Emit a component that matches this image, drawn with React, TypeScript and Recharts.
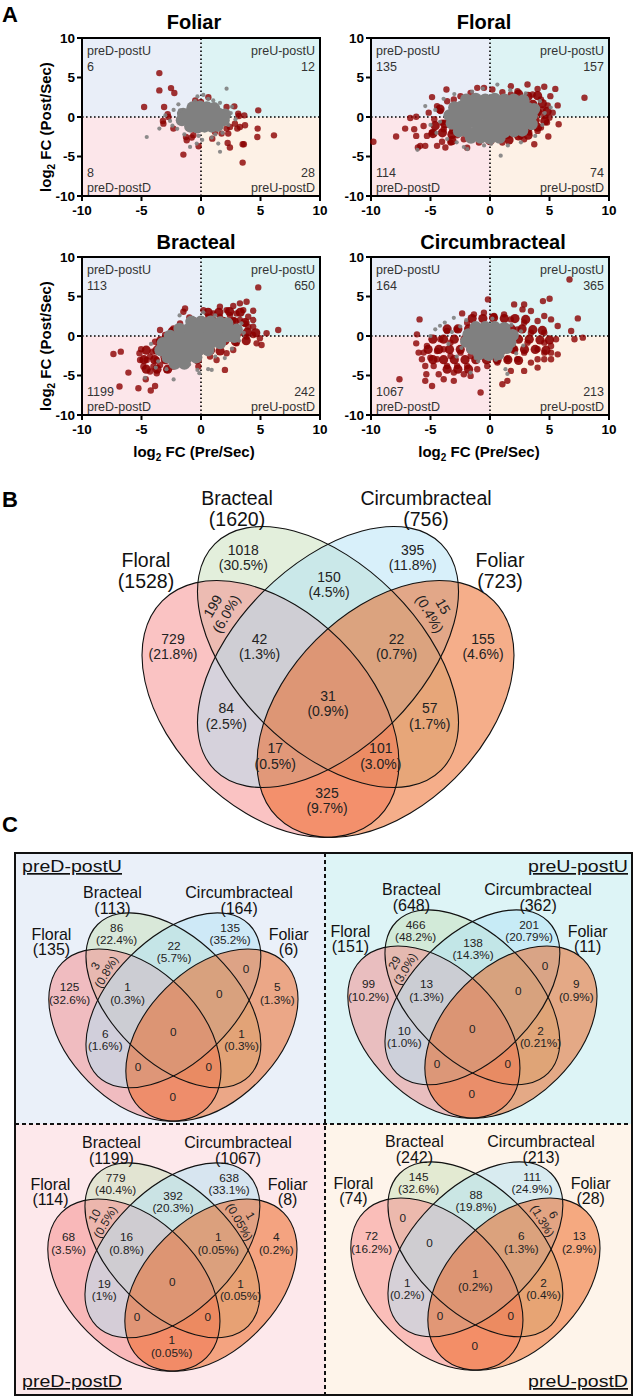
import React from "react";
import { ScatterChart, Scatter, XAxis, YAxis, ReferenceArea, ReferenceLine } from "recharts";

type Pt = [number, number];

const SANS = "'Liberation Sans', Arial, Helvetica, sans-serif";
const RED = "#8b0000";
const GRAY = "#808080";

// ---------- panel A ----------
const quadrants = ["preD-postU", "preU-postU", "preD-postD", "preU-postD"];
const foliarCounts = [6, 12, 8, 28];
const floralCounts = [135, 157, 114, 74];
const bractealCounts = [113, 650, 1199, 242];
const circumCounts = [164, 365, 1067, 213];

const foliarRed: Pt[] = [
  [-3.5, 5.56], [-3.5, 3.37], [-2.52, 3.66], [-2.24, 3.03], [-4.78, 1.26], [-3.1, 1.26], [-2.8, 0.34], [-2.74, 0],
  [-3.2, -0.5], [-3.16, -0.84], [-2.32, -1.47], [-1.26, -2.53], [-1.2, -2.95], [-0.78, -2.6], [-0.64, -2.3], [-0.2, -3.7],
  [-1.48, -4.76], [-0.48, 2.1], [0, 1.9], [0.62, 2.5], [0.2, 1.35], [2.15, 1.26], [2.8, 1.35], [3.13, 0.42], [3.19, 0.13],
  [3.64, 0.21], [4.81, 0.84], [2.15, -1.47], [2.43, -1.26], [3.05, -1.47], [3.27, -1.26], [3.7, -1.05], [2.85, -0.84],
  [2.29, -2.1], [1.73, -2.1], [1.17, -1.9], [0.95, -2.74], [4.76, -1.47], [4.73, -2.53], [6.13, -2.32], [2.24, -3.28],
  [2.43, -3.87], [3.5, -3.45], [3.6, -3.45], [3.5, -5.77], [0.6, 0], [1.3, 0.1], [0.75, -0.84], [-0.8, -0.4],
];
const foliarRedDense: Pt[] = [];
const foliarGrayDense: Pt[] = [
  [-0.7, 1.2], [-0.1, 1.3], [0.5, 1.2], [1.1, 1.1],
  [-1.5, 0.4], [-0.9, 0.5], [-0.3, 0.4], [0.3, 0.5], [0.9, 0.4], [1.5, 0.4], [2.0, 0.3],
  [-1.6, -0.4], [-1.0, -0.4], [-0.4, -0.5], [0.2, -0.4], [0.8, -0.4], [1.4, -0.5], [1.9, -0.4],
  [-0.9, -1.2], [-0.3, -1.3], [0.3, -1.2], [0.9, -1.2], [1.4, -1.1],
];
const foliarGray: Pt[] = [
  [-2.3, 0.9], [-2.6, -0.5], [-1.9, 1.6], [-0.5, 2.0], [0.6, 2.3], [1.6, 1.8], [2.15, 3.58], [2.5, 0.5], [2.3, -1.0],
  [1.8, -2.0], [1.45, -3.37], [1.6, -4.4], [-0.36, -3.37], [-0.92, -3.79], [-1.4, -2.2], [-2.0, -1.5], [-3.5, -1.47],
  [-4.56, -2.53], [-1.76, 0.84], [1.03, 2.1], [0.2, 2.8], [-0.2, -2.4], [0.9, -2.6], [2.9, -0.3], [-3.0, 0.2],
  [-0.3, 2.6], [0.1, -2.9], [2.6, 1.3], [-2.4, -1.1], [1.2, -2.2],
];

const floralRed: Pt[] = [
  [-9.8, -3.14], [-7.89, -2.47], [-6.7, -0.13], [-6.2, 0.04], [-7.13, -1.47], [-6.37, -1.55], [-6.2, -2.39], [-5.86, -3.65],
  [-5.44, -3.65], [-6.06, -3.86], [-5.3, -2.39], [-5.58, -1.13], [-4.87, 2.52], [-3.66, 3.48], [-4.45, -3.65], [-4.03, -3.14],
  [-3.75, -3.86], [-3.32, -3.23], [-2.76, -2.31], [-2.76, -1.13], [-3.18, -1.76], [-4.68, -0.29], [-4.17, 0.75], [-3.6, 2.0],
  [-4.45, 1.38], [-5.15, 0.55], [-1.92, -3.9], [-2.2, -2.81], [-1.35, -2.6], [-0.5, 3.69], [-1.63, 3.06], [-2.48, 2.64],
  [-3.04, 2.22], [0.2, 3.48], [1.04, 3.14], [1.75, 2.85], [3.15, 4.11], [4.0, 3.56], [4.56, 3.82], [5.49, 3.56], [5.07, 2.64],
  [5.69, 1.47], [7.94, 2.43], [4.85, 1.47], [4.28, 2.22], [3.58, 2.85], [2.87, 2.22], [2.31, 3.27], [4.0, 0.55], [4.56, 0.13],
  [4.99, -0.08], [5.77, -0.92], [4.79, -0.71], [4.28, -1.34], [4.9, -2.47], [3.72, -3.44], [2.87, -2.81], [2.59, -2.39],
  [2.17, -1.76], [1.75, -2.18], [1.04, -3.23], [0.28, -2.73], [3.3, -1.13], [3.58, -0.29], [3.15, 0.96], [3.72, 1.38],
  [2.73, 0.34], [2.31, -1.34], [1.46, -2.39], [-3.89, -1.55], [-4.87, -1.97], [-4.03, -0.71], [-3.32, -0.29], [-2.48, -1.76],
  [-1.63, -1.97], [-0.93, -3.23], [-0.5, -2.39], [3.3, -1.97], [4.0, -1.76], [4.42, 0.96], [5.27, 0.55], [1.75, 3.9], [-1.07, 3.69],
];
const floralRedDense: Pt[] = [
  [-4.2, 1.0], [-4.6, -1.1], [-3.8, -0.9], [-4.8, -2.1], [-4.0, -2.0], [-3.2, -2.2], [-3.2, -3.0],
  [3.2, 2.6], [4.0, 2.7], [3.6, 1.6], [4.4, 1.7], [4.0, 0.6], [4.8, 0.7], [3.8, -0.4], [4.6, -0.5], [3.2, -1.4], [4.0, -1.3],
  [2.4, -2.4], [3.2, -2.3], [0.0, -3.0], [1.6, -2.9], [2.4, 2.9],
];
const floralGrayDense: Pt[] = [
  [-2.0, 2.2], [-1.2, 2.3], [-0.4, 2.2], [0.4, 2.3], [1.2, 2.2], [2.0, 2.2], [2.8, 2.1],
  [-3.0, 1.2], [-2.4, 1.3], [-1.6, 1.2], [-0.8, 1.3], [0.0, 1.2], [0.8, 1.3], [1.6, 1.2], [2.4, 1.2], [3.2, 1.1], [3.7, 1.0],
  [-3.4, 0.2], [-2.8, 0.3], [-2.0, 0.2], [-1.2, 0.2], [-0.4, 0.3], [0.4, 0.2], [1.2, 0.2], [2.0, 0.3], [2.8, 0.2], [3.5, 0.2],
  [-3.2, -0.8], [-2.6, -0.8], [-1.8, -0.7], [-1.0, -0.8], [-0.2, -0.8], [0.6, -0.9], [1.4, -0.8], [2.2, -0.8], [3.0, -0.7], [3.5, -0.9],
  [-2.6, -1.8], [-2.0, -1.8], [-1.2, -1.9], [-0.4, -1.8], [0.4, -1.8], [1.2, -1.9], [2.0, -1.8], [2.7, -1.7],
  [-1.6, -2.6], [-0.8, -2.6], [0.0, -2.7], [0.8, -2.6],
];
const floralGray: Pt[] = [
  [0.62, 4.1], [0.9, -4.9], [-1.9, -4.07], [-6.1, -4.15], [-5.44, 1.38], [-4.6, 0.9], [-4.2, -0.6], [-4.5, -2.0], [-3.9, 2.3],
  [-3.0, 2.9], [-1.5, 3.2], [1.7, 3.4], [3.0, 3.0], [4.2, 2.0], [4.6, 0.5], [4.4, -1.0], [3.8, -2.4], [2.6, -3.2], [1.5, -3.6],
  [-0.5, -3.6], [-2.8, -3.2], [-3.6, -2.8], [-5.0, -1.0], [-2.2, -3.8], [5.1, 1.2], [-0.6, 3.6], [0.1, -3.4],
];

const bractealRed: Pt[] = [
  [-7.36, -2.27], [-6.74, -1.98], [-6.85, -6.4], [-6.1, -4.63], [-5.26, -6.61], [-4.22, -6.9], [-3.86, -6.32], [-4.64, -5.47],
  [-5.03, -1.68], [-5.17, -2.19], [-5.12, -3.03], [-4.56, -3.03], [-4.84, -3.87], [-4.28, -4.5], [-3.72, -4.72], [-3.44, -3.66],
  [-4.06, -1.98], [-3.58, -1.35], [-3.86, -0.72], [-3.44, 0.76], [-3.02, 0.13], [-2.88, -2.19], [-2.6, -3.03], [-2.32, -3.87],
  [-2.88, -4.29], [-1.76, -3.45], [-2.32, -1.77], [-3.16, -1.35], [-1.34, 3.49], [-1.48, 3.07], [-0.98, 2.36], [-1.76, 1.6],
  [-2.32, 0.97], [-0.64, 2.02], [0.2, 3.28], [0.62, 2.44], [1.59, 3.7], [2.15, 3.28], [2.71, 3.79], [3.27, 4.13], [3.83, 4.34],
  [4.39, 3.2], [3.97, 2.44], [3.69, 1.6], [4.39, 2.02], [4.81, 6.15], [6.49, 0.76], [5.51, 0.34], [4.95, -0.29], [5.09, -1.14],
  [4.67, -0.93], [4.39, 0.13], [3.83, -0.08], [3.27, 0.34], [2.99, -0.93], [2.71, -1.77], [2.15, -2.19], [2.01, -4.29],
  [1.31, -3.03], [0.76, -2.61], [0.48, -1.98], [2.71, 2.02], [2.43, 1.18], [1.87, 2.02], [1.31, 1.18], [1.03, 2.86],
  [-0.08, 1.18], [-0.64, -2.19], [-1.2, -3.03], [-0.22, -3.87], [1.45, -0.08], [3.27, 2.02], [3.97, 1.18], [4.39, 1.18],
  [2.99, 2.86], [3.55, 3.28], [2.43, 2.65], [1.59, 2.44], [-4.28, -2.61], [-3.72, -3.03], [-3.16, -2.61], [-4.0, -3.87],
  [-2.6, -0.93], [-2.04, -0.5], [-1.76, -1.77], [-1.2, -1.35], [-1.2, 0.76],
];
const bractealRedDense: Pt[] = [
  [0.6, 3.0], [1.5, 3.0], [2.4, 3.1], [3.3, 3.0],
  [-0.8, 1.8], [0.1, 1.8], [1.0, 1.9], [1.9, 1.8], [2.8, 1.8], [3.7, 1.7],
  [-2.4, 0.6], [-1.5, 0.6], [-0.6, 0.7], [0.3, 0.6], [1.2, 0.6], [2.1, 0.6], [3.0, 0.6], [3.9, 0.5], [4.6, 0.4],
  [-3.4, -0.6], [-2.5, -0.6], [-1.6, -0.6], [-0.7, -0.6], [0.2, -0.6], [1.1, -0.6], [2.0, -0.6], [2.9, -0.7], [3.8, -0.6],
  [-4.6, -1.8], [-3.7, -1.8], [-2.8, -1.8], [-1.9, -1.8], [-1.0, -1.8], [-0.1, -1.8], [0.8, -1.8], [1.6, -1.9],
  [-4.8, -3.0], [-3.9, -3.0], [-3.0, -3.0], [-2.1, -3.0], [-1.2, -3.0], [-0.3, -3.0],
  [-4.6, -4.2], [-3.7, -4.2], [-2.8, -4.2],
];
const bractealGrayDense: Pt[] = [
  [-0.8, 1.8], [0.0, 1.8], [0.8, 1.8], [1.6, 1.7], [2.2, 1.6],
  [-1.8, 0.9], [-1.0, 0.9], [-0.2, 0.9], [0.6, 0.9], [1.4, 0.9], [2.2, 0.9], [3.0, 0.8],
  [-2.6, 0.0], [-1.8, 0.0], [-1.0, 0.0], [-0.2, 0.0], [0.6, 0.0], [1.4, 0.0], [2.2, 0.0], [2.8, -0.1],
  [-3.2, -0.9], [-2.4, -0.9], [-1.6, -0.9], [-0.8, -0.9], [0.0, -0.9], [0.8, -0.9], [1.6, -0.9],
  [-3.4, -1.8], [-2.6, -1.8], [-1.8, -1.8], [-1.0, -1.8], [-0.2, -1.8], [0.6, -1.8],
  [-2.8, -2.7], [-2.0, -2.7], [-1.2, -2.7], [-0.4, -2.7], [-2.2, -3.5], [-1.4, -3.5],
];
const bractealGray: Pt[] = [
  [-0.14, -4.7], [-0.3, -4.3], [-2.3, -5.5], [-4.7, -5.3], [0.6, -4.2], [0.9, -4.3], [-3.6, -3.2], [-4.2, -1.0], [3.4, 1.6],
  [3.2, -0.6], [2.6, -1.6], [1.2, -2.6], [-1.8, 2.6], [0.2, 3.0], [-3.8, -4.0], [-2.9, -4.2], [2.0, -2.8], [3.6, 0.4],
  [-1.0, -3.6], [1.2, 2.6],
];

const circumRed: Pt[] = [
  [-5.92, 2.1], [-7.61, -5.47], [-6.14, 0.21], [-6.2, -0.93], [-6.0, -2.1], [-5.72, -2.95], [-5.35, -4.84], [-5.44, -5.68],
  [-4.87, -6.32], [-5.44, -3.79], [-5.01, -2.74], [-4.73, -3.79], [-4.31, -4.84], [-3.89, -5.47], [-3.04, -5.68], [-2.2, -4.84],
  [-1.63, -5.05], [-0.79, -7.16], [1.04, -6.11], [1.46, -5.68], [2.87, -4.42], [1.75, -4.42], [4.0, -4.0], [5.69, -2.32],
  [5.13, -2.11], [4.56, -2.95], [3.44, -3.37], [2.31, -2.95], [2.87, -2.11], [4.0, -1.68], [5.13, -1.26], [5.55, -0.42],
  [5.69, 1.26], [5.13, 2.1], [4.56, 2.53], [4.0, 1.89], [3.44, 3.16], [2.87, 4.0], [2.03, 4.0], [2.73, 3.37], [4.45, 4.42],
  [5.01, 4.72], [6.68, 7.16], [7.38, 2.23], [6.82, 0.63], [7.1, -0.42], [7.8, -0.21], [-0.17, 4.63], [-0.51, 2.95], [0.34, 2.53],
  [1.18, 2.74], [1.75, 2.1], [-1.35, 2.74], [-2.34, 2.86], [-1.92, 1.68], [-2.76, 0.84], [-3.61, 0.63], [-4.17, -0.42],
  [-3.89, -1.68], [-4.45, -1.89], [-3.32, -2.53], [-2.76, -3.79], [-1.92, -3.79], [-1.07, -4.21], [-0.23, -3.79], [0.62, -3.37],
  [1.46, -2.95], [2.03, -1.68], [3.15, -0.84], [3.44, 0.42], [4.56, 0.42], [4.56, -0.84], [2.31, 0.84], [2.87, 1.68],
  [1.18, 1.26], [-2.48, -2.11], [-1.63, -2.53], [-0.79, -2.53], [-3.32, -0.84], [-5.3, -1.26], [-5.58, -2.1], [-4.45, -2.95],
  [-3.61, -3.79], [-3.04, -4.63], [0.62, -1.68], [0.06, -2.53], [4.0, -2.95], [4.56, -2.11], [5.13, -2.95],
];
const circumRedDense: Pt[] = [
  [-1.5, 2.2], [-0.6, 2.2], [0.3, 2.3], [1.2, 2.2], [2.1, 2.2], [3.0, 2.1],
  [-3.6, 0.9], [-2.7, 0.9], [-1.8, 0.9], [-0.9, 0.9], [0.0, 0.9], [0.9, 0.9], [1.8, 0.9], [2.7, 0.9], [3.6, 0.8], [4.4, 0.7],
  [-4.8, -0.4], [-3.9, -0.4], [-3.0, -0.4], [-2.1, -0.4], [-1.2, -0.4], [-0.3, -0.4], [0.6, -0.4], [1.5, -0.4], [2.4, -0.4],
  [3.3, -0.4], [4.2, -0.5], [5.0, -0.5],
  [-5.2, -1.7], [-4.3, -1.7], [-3.4, -1.7], [-2.5, -1.7], [-1.6, -1.7], [-0.7, -1.7], [0.2, -1.7], [1.1, -1.7], [2.0, -1.7],
  [2.9, -1.7], [3.8, -1.7], [4.7, -1.8],
  [-4.8, -3.0], [-3.9, -3.0], [-3.0, -3.0], [-2.1, -3.0], [-1.2, -3.0], [-0.3, -3.0], [0.6, -3.0], [1.5, -3.0], [2.4, -3.1],
  [-3.6, -4.2], [-2.7, -4.2], [-1.8, -4.2],
];
const circumGrayDense: Pt[] = [
  [-1.2, 1.1], [-0.4, 1.1], [0.4, 1.1], [1.2, 1.0],
  [-1.8, 0.2], [-1.0, 0.2], [-0.2, 0.2], [0.6, 0.2], [1.4, 0.2], [1.9, 0.1],
  [-2.0, -0.7], [-1.2, -0.7], [-0.4, -0.7], [0.4, -0.7], [1.2, -0.7], [1.7, -0.8],
  [-1.5, -1.6], [-0.7, -1.6], [0.1, -1.6], [0.9, -1.6], [1.4, -1.5],
  [-0.9, -2.3], [-0.1, -2.4], [0.7, -2.3],
];
const circumGray: Pt[] = [
  [-3.04, 2.3], [-3.8, 1.7], [-4.6, 0.84], [-5.0, 0], [-2.5, 1.2], [-3.2, 0.5], [-1.63, -4.63], [1.3, -4.2], [1.46, -4.8],
  [-2.4, -1.5], [-3.5, -1.0], [2.8, -1.2], [2.6, 0.6], [-1.0, -3.2], [0.5, -3.0], [-4.2, 1.3], [-2.0, 2.0], [-1.2, -2.8],
  [2.2, -2.2], [-2.8, -2.6], [0.2, 2.2], [1.8, 1.4],
];

// ---------- panels B and C ----------
const setNames = ["Floral", "Bracteal", "Circumbracteal", "Foliar"];
// region order: B, C, B&C, F&B, C&Fo, F, F&B&C, B&C&Fo, Fo, all, F&C, B&Fo, F&C&Fo, F&B&Fo, F&Fo
const allTotals = [1528, 1620, 756, 723];
const allCounts = [1018, 395, 150, 199, 15, 729, 42, 22, 155, 31, 84, 57, 17, 101, 325];
const allPcts = ["30.5%", "11.8%", "4.5%", "6.0%", "0.4%", "21.8%", "1.3%", "0.7%", "4.6%", "0.9%", "2.5%", "1.7%", "0.5%", "3.0%", "9.7%"];

const dpuTotals = [135, 113, 164, 6];
const dpuCounts = [86, 135, 22, 3, 0, 125, 1, 0, 5, 0, 6, 1, 0, 0, 0];
const dpuPcts = ["22.4%", "35.2%", "5.7%", "0.8%", "", "32.6%", "0.3%", "", "1.3%", "", "1.6%", "0.3%", "", "", ""];

const upuTotals = [151, 648, 362, 11];
const upuCounts = [466, 201, 138, 29, 0, 99, 13, 0, 9, 0, 10, 2, 0, 0, 0];
const upuPcts = ["48.2%", "20.79%", "14.3%", "3.0%", "", "10.2%", "1.3%", "", "0.9%", "", "1.0%", "0.21%", "", "", ""];

const dpdTotals = [114, 1199, 1067, 8];
const dpdCounts = [779, 638, 392, 10, 1, 68, 16, 1, 4, 0, 19, 1, 0, 0, 1];
const dpdPcts = ["40.4%", "33.1%", "20.3%", "0.5%", "0.05%", "3.5%", "0.8%", "0.05%", "0.2%", "", "1%", "0.05%", "", "", "0.05%"];

const updTotals = [74, 242, 213, 28];
const updCounts = [145, 111, 88, 0, 6, 72, 0, 6, 13, 1, 1, 2, 0, 0, 0];
const updPcts = ["32.6%", "24.9%", "19.8%", "", "1.3%", "16.2%", "", "1.3%", "2.9%", "0.2%", "0.2%", "0.4%", "", "", ""];

// venn geometry (units of panel B pixels, relative to the diagram centre), in drawing order
const vennEllipses = [
  { x: 0, y: 0, a: 160, b: 92, rot: 45, fill: "#C7DFB9" }, // Bracteal
  { x: -57.5, y: 52, a: 153, b: 98, rot: 45, fill: "#F58787" }, // Floral
  { x: 0, y: 0, a: 160, b: 92, rot: -45, fill: "#B1E1F5" }, // Circumbracteal
  { x: 57.5, y: 52, a: 153, b: 98, rot: -45, fill: "#EB5D15" }, // Foliar
];
const setLabelSpots: Pt[] = [[-182, -90], [-91, -152], [98, -152], [172, -90]];
const regionSpots: [number, number, number][] = [
  [-84.7, -99.5, 0], [84.7, -99.5, 0], [1, -72.5, 0], [-108.5, -47, -60], [108.5, -47, 60],
  [-155, -10.5, 0], [-68.5, -10.5, 0], [68.5, -10.5, 0], [155, -10.5, 0], [0, 46.5, 0],
  [-101.7, 59, 0], [101.7, 59, 0], [-52.8, 99, 0], [52.8, 99, 0], [-1, 143.5, 0],
];

const TICKS = [-10, -5, 0, 5, 10];
const tickStyle = { fill: "#000", fontSize: 13.5, fontWeight: 700, fontFamily: SANS };
const axisStroke = { stroke: "#000", strokeWidth: 2 };

const dot = (r: number, fill: string, op: number) => (p: any) => (
  <circle cx={p.cx} cy={p.cy} r={r} fill={fill} fillOpacity={op} />
);

const quadText = (p: any) => {
  const d = p.payload;
  const right = d.x > 0;
  const top = d.y > 0;
  const x = right ? p.cx - 5 : p.cx + 5;
  const lines = top ? [d.name, String(d.count)] : [String(d.count), d.name];
  const y0 = top ? p.cy + 17 : p.cy - 19.5;
  return (
    <text textAnchor={right ? "end" : "start"} fontSize={12.5} fill="#333" fontFamily={SANS}>
      <tspan x={x} y={y0}>{lines[0]}</tspan>
      <tspan x={x} y={y0 + 15.5}>{lines[1]}</tspan>
    </text>
  );
};

const pts = (a: Pt[]) => a.map(([x, y]) => ({ x, y }));

function FcPlot({ left, top, counts, red, redDense, gray, grayDense }: any) {
  const labels = quadrants.map((name, i) => ({
    x: i % 2 === 0 ? -10 : 10,
    y: i < 2 ? 10 : -10,
    name,
    count: counts[i],
  }));
  return (
    <div style={{ position: "absolute", left, top }}>
      <ScatterChart width={330} height={220} margin={{ top: 38, right: 10, bottom: 4, left: 42 }}>
        <XAxis type="number" dataKey="x" domain={[-10, 10]} ticks={TICKS} interval={0} height={20} tickSize={5}
          tickMargin={4} tick={tickStyle} axisLine={axisStroke} tickLine={axisStroke} />
        <YAxis type="number" dataKey="y" domain={[-10, 10]} ticks={TICKS} interval={0} width={40} tickSize={5}
          tickMargin={2} tick={tickStyle} axisLine={axisStroke} tickLine={axisStroke} />
        <ReferenceArea x1={-10} x2={0} y1={0} y2={10} fill="#E9EEF8" fillOpacity={1} stroke="none" />
        <ReferenceArea x1={0} x2={10} y1={0} y2={10} fill="#DDF3F4" fillOpacity={1} stroke="none" />
        <ReferenceArea x1={-10} x2={0} y1={-10} y2={0} fill="#FCE6EA" fillOpacity={1} stroke="none" />
        <ReferenceArea x1={0} x2={10} y1={-10} y2={0} fill="#FDF1E6" fillOpacity={1} stroke="none" />
        <ReferenceLine x={0} stroke="#000" strokeWidth={1.6} strokeDasharray="1.6 2.4" />
        <ReferenceLine y={0} stroke="#000" strokeWidth={1.6} strokeDasharray="1.6 2.4" />
        <Scatter data={pts(redDense)} shape={dot(4.6, RED, 0.9)} isAnimationActive={false} />
        <Scatter data={pts(red)} shape={dot(3.2, RED, 0.8)} isAnimationActive={false} />
        <Scatter data={pts(grayDense)} shape={dot(6.2, GRAY, 1)} isAnimationActive={false} />
        <Scatter data={pts(gray)} shape={dot(2.1, GRAY, 0.9)} isAnimationActive={false} />
        <Scatter data={labels} shape={quadText} isAnimationActive={false} />
        <ReferenceArea x1={-10} x2={10} y1={-10} y2={10} fill="none" stroke="#000" strokeWidth={2} />
      </ScatterChart>
    </div>
  );
}

function Venn({ cx, cy, s, totals, counts, pcts, setSize, setGap, numSize, numGap }: any) {
  const W = 440 * s;
  const H = 380 * s;
  const regions = regionSpots.map(([x, y, rot], i) => ({ x, y, rot, n: counts[i], pct: pcts[i] }));
  const sets = setLabelSpots.map(([x, y], i) => ({ x, y, name: setNames[i], total: totals[i] }));
  const ellShape = (filled: boolean) => (p: any) => {
    const e = p.payload;
    return (
      <ellipse cx={p.cx} cy={p.cy} rx={e.a * s} ry={e.b * s} transform={`rotate(${e.rot} ${p.cx} ${p.cy})`}
        fill={filled ? e.fill : "none"} fillOpacity={0.5} stroke={filled ? "none" : "#111"} strokeWidth={1.1} />
    );
  };
  const regionText = (p: any) => {
    const d = p.payload;
    const lines = d.pct ? [String(d.n), `(${d.pct})`] : [String(d.n)];
    const rot = d.pct ? d.rot : 0;
    const y0 = p.cy - ((lines.length - 1) * numGap) / 2 + 0.36 * numSize;
    return (
      <g transform={rot ? `rotate(${rot} ${p.cx} ${p.cy})` : undefined}>
        <text textAnchor="middle" fontSize={numSize} fontFamily={SANS} fill="#222">
          {lines.map((l, k) => (
            <tspan key={k} x={p.cx} y={y0 + k * numGap}>{l}</tspan>
          ))}
        </text>
      </g>
    );
  };
  const setText = (p: any) => {
    const d = p.payload;
    return (
      <text textAnchor="middle" fontSize={setSize} fontFamily={SANS} fill="#111">
        <tspan x={p.cx} y={p.cy}>{d.name}</tspan>
        <tspan x={p.cx} y={p.cy + setGap}>({d.total})</tspan>
      </text>
    );
  };
  return (
    <div style={{ position: "absolute", left: cx - W / 2, top: cy - H / 2 }}>
      <ScatterChart width={W} height={H} margin={{ top: 0, right: 0, bottom: 0, left: 0 }}>
        <XAxis type="number" dataKey="x" domain={[-220, 220]} hide />
        <YAxis type="number" dataKey="y" domain={[-190, 190]} reversed hide />
        <Scatter data={vennEllipses} shape={ellShape(true)} isAnimationActive={false} />
        <Scatter data={vennEllipses} shape={ellShape(false)} isAnimationActive={false} />
        <Scatter data={regions} shape={regionText} isAnimationActive={false} />
        <Scatter data={sets} shape={setText} isAnimationActive={false} />
      </ScatterChart>
    </div>
  );
}

const Sub = ({ rest }: { rest: string }) => (
  <>
    <tspan>log</tspan>
    <tspan fontSize={10} dy={4}>2</tspan>
    <tspan dy={-4}>{rest}</tspan>
  </>
);

export default function App() {
  const cSmall = { s: 0.67, setSize: 16, setGap: 15.5, numSize: 11.8, numGap: 12.5 };
  return (
    <div style={{ position: "absolute", left: 0, top: 0, width: 634, height: 1398, background: "#fff", overflow: "hidden" }}>
      <svg width={634} height={1398} style={{ position: "absolute", left: 0, top: 0 }}>
        <rect x={15} y={853} width={310} height={271} fill="#EAF0F9" />
        <rect x={325} y={853} width={307} height={271} fill="#DDF4F6" />
        <rect x={15} y={1124} width={310} height={271} fill="#FDE8EB" />
        <rect x={325} y={1124} width={307} height={271} fill="#FEF4EA" />
        <line x1={325} y1={853} x2={325} y2={1395} stroke="#111" strokeWidth={2} strokeDasharray="4 3" />
        <line x1={15} y1={1124} x2={632} y2={1124} stroke="#111" strokeWidth={2} strokeDasharray="4 3" />
        <rect x={15} y={853} width={617} height={542} fill="none" stroke="#111" strokeWidth={2} />
      </svg>

      <FcPlot left={0} top={0} counts={foliarCounts} red={foliarRed} redDense={foliarRedDense} gray={foliarGray} grayDense={foliarGrayDense} />
      <FcPlot left={289} top={0} counts={floralCounts} red={floralRed} redDense={floralRedDense} gray={floralGray} grayDense={floralGrayDense} />
      <FcPlot left={0} top={219} counts={bractealCounts} red={bractealRed} redDense={bractealRedDense} gray={bractealGray} grayDense={bractealGrayDense} />
      <FcPlot left={289} top={219} counts={circumCounts} red={circumRed} redDense={circumRedDense} gray={circumGray} grayDense={circumGrayDense} />

      <Venn cx={327.5} cy={657} s={1} totals={allTotals} counts={allCounts} pcts={allPcts} setSize={19.5} setGap={21} numSize={14} numGap={15.5} />
      <Venn cx={173} cy={1000} totals={dpuTotals} counts={dpuCounts} pcts={dpuPcts} {...cSmall} />
      <Venn cx={472} cy={997} totals={upuTotals} counts={upuCounts} pcts={upuPcts} {...cSmall} />
      <Venn cx={172} cy={1250} totals={dpdTotals} counts={dpdCounts} pcts={dpdPcts} {...cSmall} />
      <Venn cx={475} cy={1249} totals={updTotals} counts={updCounts} pcts={updPcts} {...cSmall} />

      <svg width={634} height={1398} style={{ position: "absolute", left: 0, top: 0, pointerEvents: "none" }} fontFamily={SANS}>
        <text x={2} y={22} fontSize={22} fontWeight={700}>A</text>
        <text x={2} y={507} fontSize={22} fontWeight={700}>B</text>
        <text x={2} y={832} fontSize={22} fontWeight={700}>C</text>
        <g fontSize={20} fontWeight={700} textAnchor="middle">
          <text x={194} y={29}>Foliar</text>
          <text x={484} y={29}>Floral</text>
          <text x={196} y={249}>Bracteal</text>
          <text x={493} y={249}>Circumbracteal</text>
        </g>
        <g fontSize={15} fontWeight={700} textAnchor="middle">
          <text x={51} y={127} transform="rotate(-90 51 127)"><Sub rest=" FC (Post/Sec)" /></text>
          <text x={51} y={346} transform="rotate(-90 51 346)"><Sub rest=" FC (Post/Sec)" /></text>
          <text x={194} y={457}><Sub rest=" FC (Pre/Sec)" /></text>
          <text x={479} y={457}><Sub rest=" FC (Pre/Sec)" /></text>
        </g>
        <g fontSize={17} fill="#111" textDecoration="underline">
          <text x={22} y={872} textLength={100} lengthAdjust="spacingAndGlyphs">{quadrants[0]}</text>
          <text x={528} y={872} textLength={100} lengthAdjust="spacingAndGlyphs">{quadrants[1]}</text>
          <text x={22} y={1387} textLength={100} lengthAdjust="spacingAndGlyphs">{quadrants[2]}</text>
          <text x={528} y={1387} textLength={100} lengthAdjust="spacingAndGlyphs">{quadrants[3]}</text>
        </g>
      </svg>
    </div>
  );
}
